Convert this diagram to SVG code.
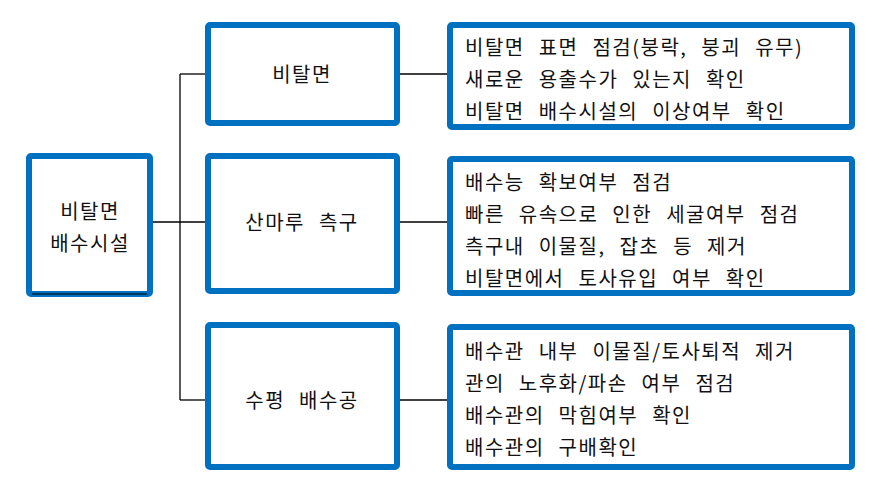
<svg xmlns="http://www.w3.org/2000/svg" width="879" height="484" viewBox="0 0 879 484">
<style>
.b{fill:#fff;stroke:#0070c0;stroke-width:6}
.c line{stroke:#000;stroke-width:1.3}
text{font-family:"Noto Sans CJK KR","Noto Sans",sans-serif;font-size:20px;fill:#111;word-spacing:8px;letter-spacing:1.5px}
.m{text-anchor:middle}
</style>
<rect width="879" height="484" fill="#fff"/>
<g class="c" id="connectors">
<line x1="153" y1="222" x2="205" y2="222"/>
<line x1="180" y1="74" x2="180" y2="400"/>
<line x1="180" y1="74" x2="205" y2="74"/>
<line x1="180" y1="400" x2="205" y2="400"/>
<line x1="400" y1="74" x2="447" y2="74"/>
<line x1="400" y1="222" x2="447" y2="222"/>
<line x1="400" y1="400" x2="447" y2="400"/>
</g>
<g id="n0"><rect class="b" x="29" y="156" width="121" height="138" rx="2"/><line x1="32" y1="294" x2="147" y2="294" stroke="#000"/>
<text class="m" x="90" y="219">비탈면</text><text class="m" x="90" y="251">배수시설</text></g>
<g id="n1"><rect class="b" x="208" y="25" width="189" height="98" rx="2"/><text class="m" x="302" y="82">비탈면</text></g>
<g id="n2"><rect class="b" x="208" y="156" width="189" height="135" rx="2"/><text class="m" x="302" y="230">산마루 측구</text></g>
<g id="n3"><rect class="b" x="208" y="325" width="189" height="142" rx="2"/><text class="m" x="302" y="408">수평 배수공</text></g>
<g id="n4"><rect class="b" x="450" y="25" width="402" height="102" rx="2"/>
<text x="465" y="55">비탈면 표면 점검(붕락, 붕괴 유무)</text>
<text x="465" y="87">새로운 용출수가 있는지 확인</text>
<text x="465" y="119">비탈면 배수시설의 이상여부 확인</text></g>
<g id="n5"><rect class="b" x="450" y="159" width="402" height="134" rx="2"/>
<text x="465" y="190">배수능 확보여부 점검</text>
<text x="465" y="222">빠른 유속으로 인한 세굴여부 점검</text>
<text x="465" y="254">측구내 이물질, 잡초 등 제거</text>
<text x="465" y="286">비탈면에서 토사유입 여부 확인</text></g>
<g id="n6"><rect class="b" x="450" y="327" width="402" height="140" rx="2"/>
<text x="465" y="359">배수관 내부 이물질/토사퇴적 제거</text>
<text x="465" y="391">관의 노후화/파손 여부 점검</text>
<text x="465" y="423">배수관의 막힘여부 확인</text>
<text x="465" y="455">배수관의 구배확인</text></g>
</svg>
